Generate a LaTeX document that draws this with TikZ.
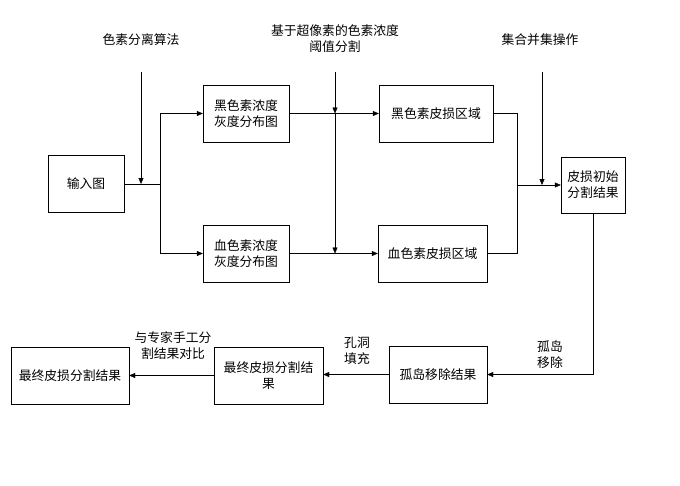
\documentclass[tikz,border=0pt]{standalone}
\usepackage{fontspec}
\setmainfont{Noto Sans CJK SC}
\usetikzlibrary{arrows.meta}

\tikzset{
  box/.style={draw, thin, minimum height=57pt, align=center, inner sep=0pt,
    font=\fontsize{12.8}{16}\selectfont},
  lbl/.style={align=center, font=\fontsize{12.8}{16}\selectfont},
  arr/.style={thin, -{Triangle[length=6pt,width=5pt]}},
  ln/.style={thin}
}

\begin{document}
\begin{tikzpicture}[x=1pt,y=-1pt]
        \useasboundingbox (0,0) rectangle (680,485);

                % boxes
                \node[box, minimum width=76pt] (in) at (86,184) {输入图};
                \node[box, minimum width=86pt] (mdist) at (246,113.5) {黑色素浓度\\灰度分布图};
                \node[box, minimum width=86pt] (hdist) at (246,253.5) {血色素浓度\\灰度分布图};
                \node[box, minimum width=114pt] (mreg) at (436,113.5) {黑色素皮损区域};
                \node[box, minimum width=109pt] (hreg) at (432.5,253.5) {血色素皮损区域};
                \node[box, minimum width=64pt, minimum height=56pt] (init) at (593,185) {皮损初始\\分割结果};
                \node[box, minimum width=98pt] (isl) at (438,374.5) {孤岛移除结果};
                \node[box, minimum width=109pt] (fin) at (268.5,375.5) {最终皮损分割结\\果};
                \node[box, minimum width=118pt] (cmp) at (70,375.5) {最终皮损分割结果};

                % labels
                \node[lbl] (sep) at (141,40) {色素分离算法};
                \node[lbl] (thr) at (335,39) {基于超像素的色素浓度\\阈值分割};
                \node[lbl] (uni) at (540,40) {集合并集操作};
                \node[lbl] (rmv) at (550,355) {孤岛\\移除};
                \node[lbl] (fill) at (357,351) {孔洞\\填充};
                \node[lbl] (exp) at (173,346) {与专家手工分\\割结果对比};

                % junctions
                \coordinate (j1) at (160,184);
                \coordinate (a1) at (141,72);
                \coordinate (a2) at (335,72);
                \coordinate (a3) at (542,72);
                \coordinate (j2) at (517,185);

                % input splits into two branches
                \draw[ln] (in.east) -- (j1);
                \draw[arr] (a1) -- (a1 |- in.east);
                \draw[arr] (j1) |- (mdist.west);
                \draw[arr] (j1) |- (hdist.west);

                % thresholding
                \draw[arr] (mdist.east) -- (mreg.west);
                \draw[arr] (hdist.east) -- (hreg.west);
                \draw[arr] (a2) -- (a2 |- mdist.east);
                \draw[arr] (a2 |- mdist.east) -- (a2 |- hdist.east);

                % union
                \draw[ln] (mreg.east) -| (j2);
                \draw[ln] (hreg.east) -| (j2);
                \draw[arr] (j2) -- (init.west);
                \draw[arr] (a3) -- (a3 |- init.west);

                % post processing
                \draw[arr] (init.south) |- (isl.east);
                \draw[arr] (isl.west) -- (isl.west -| fin.east);
                \draw[arr] (fin.west) -- (fin.west -| cmp.east);

\end{tikzpicture}
\end{document}
